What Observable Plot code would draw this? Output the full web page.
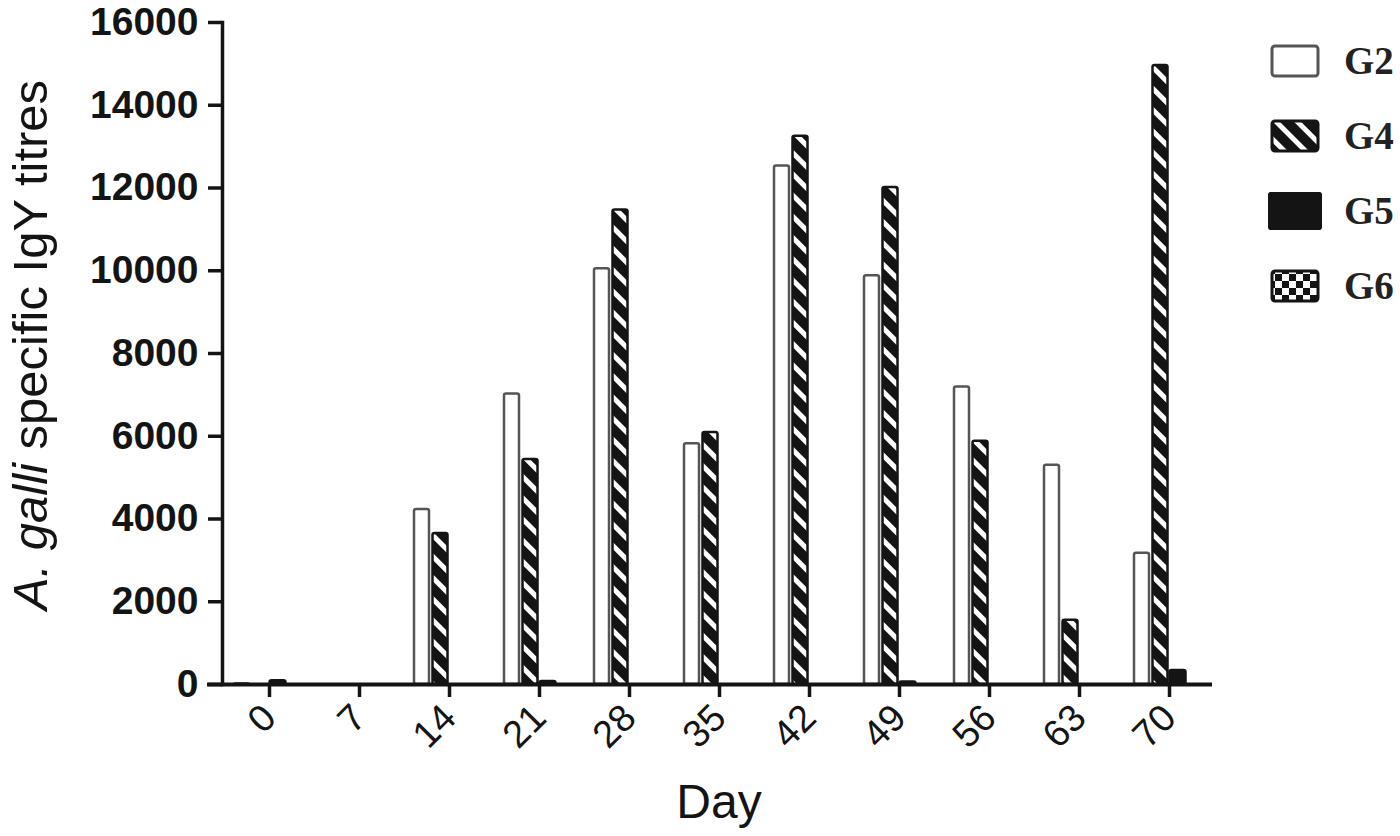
<!DOCTYPE html>
<html>
<head>
<meta charset="utf-8">
<script src="https://cdn.jsdelivr.net/npm/d3@7"></script>
<script src="https://cdn.jsdelivr.net/npm/@observablehq/plot@0.6"></script>
<style>
  html, body { margin: 0; padding: 0; background: white; }
  #wrap { position: relative; width: 1400px; height: 836px; overflow: hidden; }
  #legend { position: absolute; left: 1268px; top: 23px; font-family: "Liberation Serif", "Times New Roman", serif; font-size: 39px; font-weight: bold; color: #222; }
  .item { display: flex; align-items: center; height: 75px; }
  .item svg { margin-right: 22px; }
</style>
</head>
<body>
<svg width="0" height="0" style="position:absolute">
  <defs>
    <pattern id="stripes" patternUnits="userSpaceOnUse" width="15" height="15" patternTransform="rotate(-45)">
      <rect width="15" height="15" fill="#141414"></rect>
      <rect x="0" y="0" width="5" height="15" fill="white"></rect>
    </pattern>
    <pattern id="checker" patternUnits="userSpaceOnUse" width="14" height="14">
      <rect width="14" height="14" fill="white"></rect>
      <rect x="0" y="0" width="7" height="7" fill="#141414"></rect>
      <rect x="7" y="7" width="7" height="7" fill="#141414"></rect>
    </pattern>
  </defs>
</svg>
<div id="wrap">
  <div id="chart"></div>
  <div id="legend"></div>
</div>
<script>
const days = [0, 7, 14, 21, 28, 35, 42, 49, 56, 63, 70];
const groups = ["G2", "G4", "G5", "G6"];
const g2 = [20, 0, 4230, 7020, 10050, 5820, 12530, 9880, 7190, 5300, 3170];
const g4 = [0, 0, 3650, 5440, 11470, 6090, 13250, 12010, 5880, 1550, 14960];
const g5 = [90, 0, 0, 70, 0, 0, 0, 60, 0, 0, 340];
const g6 = [0, 0, 0, 0, 0, 0, 0, 0, 0, 0, 0];
const yTicks = [0, 2000, 4000, 6000, 8000, 10000, 12000, 14000, 16000];

const seriesByGroup = { G2: g2, G4: g4, G5: g5, G6: g6 };
const rows = groups.flatMap(g => days.map((d, i) => ({ day: d, group: g, value: seriesByGroup[g][i] })));
const of = g => rows.filter(r => r.group === g && r.value > 0);

const fills = { G2: "white", G4: "url(#stripes)", G5: "#141414", G6: "url(#checker)" };
const strokes = { G2: "#555", G4: "#141414", G5: "#141414", G6: "#141414" };
// inset pairs place each group's bar within a day's band
const insets = { G2: [10, 65], G4: [28.5, 46.5], G5: [45.5, 28.5], G6: [63, 11] };

const barMarks = groups.map(g => Plot.barY(of(g), {
  x: "day", y: "value",
  fill: fills[g], stroke: strokes[g], strokeWidth: 2.5,
  insetLeft: insets[g][0], insetRight: insets[g][1], rx: 2
}));

const chart = Plot.plot({
  width: 1400,
  height: 836,
  marginLeft: 222,
  marginRight: 185,
  marginTop: 22,
  marginBottom: 152,
  style: { fontFamily: "Liberation Sans, Arial, sans-serif", background: "white", color: "#141414" },
  x: { type: "band", domain: days, padding: 0 },
  y: { domain: [0, 16000] },
  marks: [
    ...barMarks,
    Plot.ruleY([0], { stroke: "#141414", strokeWidth: 4, insetLeft: -15, insetRight: 3 }),
    Plot.frame({ anchor: "left", stroke: "#141414", strokeWidth: 3.5 }),
    Plot.axisY({ ticks: yTicks, tickFormat: d3.format("d"), tickSize: 14, strokeWidth: 3.5, fontSize: 39, fontWeight: "bold", tickPadding: 10, label: null }),
    Plot.axisX({ tickSize: 13, strokeWidth: 3.5, tickRotate: -45, fontSize: 38, tickPadding: 14, label: null }),
    Plot.text(["Day"], { frameAnchor: "bottom", dy: 133, fontSize: 48, fill: "#141414" })
  ]
});
document.getElementById("chart").appendChild(chart);

// y-axis title with italic species name
const svg = d3.select(chart);
const t = svg.append("text")
  .attr("transform", "translate(47,345) rotate(-90)")
  .attr("text-anchor", "middle")
  .attr("font-size", 49)
  .attr("fill", "#141414");
t.append("tspan").attr("font-style", "italic").text("A. galli");
t.append("tspan").text(" specific IgY titres");

// legend
const legend = d3.select("#legend");
groups.forEach(g => {
  const item = legend.append("div").attr("class", "item");
  const s = item.append("svg").attr("width", 54).attr("height", 38);
  const big = g === "G5";
  s.append("rect")
    .attr("x", big ? 1 : 4).attr("y", big ? 1 : 4)
    .attr("width", big ? 52 : 46).attr("height", big ? 36 : 30)
    .attr("rx", 3)
    .attr("fill", fills[g]).attr("stroke", strokes[g]).attr("stroke-width", 3);
  item.append("span").text(g);
});
</script>
</body>
</html>
